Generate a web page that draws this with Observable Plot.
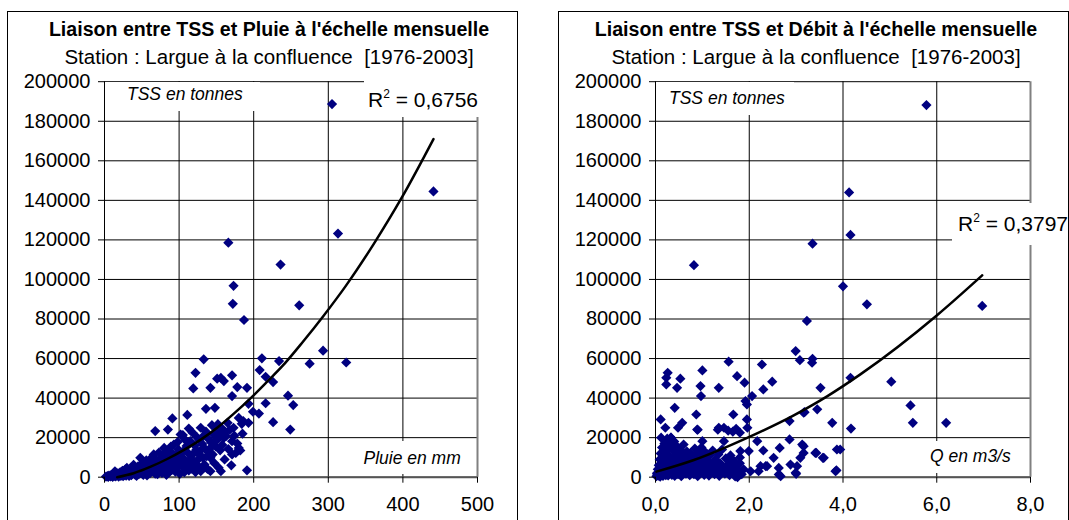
<!DOCTYPE html>
<html><head><meta charset="utf-8">
<script src="https://cdn.jsdelivr.net/npm/d3@7"></script>
<script src="https://cdn.jsdelivr.net/npm/@observablehq/plot@0.6"></script>
<style>
html,body{margin:0;padding:0;background:#fff;}
body{position:relative;width:1069px;height:520px;overflow:hidden;font-family:"Liberation Sans",Arial,Helvetica,sans-serif;color:#000;}
.panel{position:absolute;top:11px;width:511px;height:540px;border:1px solid #000;box-sizing:border-box;}
.title{position:absolute;font-weight:bold;font-size:19.6px;line-height:1;white-space:pre;transform:translateX(-50%);}
.sub{position:absolute;font-size:20.5px;line-height:1;white-space:pre;transform:translateX(-50%);}
.chart{position:absolute;top:60px;}
.box{position:absolute;background:#fff;}
.txt{position:absolute;line-height:1;white-space:nowrap;}
.it{font-style:italic;font-size:17.5px;}
.r2{font-size:21px;}
.r2 sup{font-size:12px;vertical-align:0;position:relative;top:-9px;}
</style></head><body>
<script>
// ---------- DATA ----------
const titles = ["Liaison entre TSS et Pluie à l'échelle mensuelle", "Liaison entre TSS et Débit à l'échelle mensuelle"];
const subtitle = "Station : Largue à la confluence  [1976-2003]";
const yLabel = "TSS en tonnes";
const xLabels = ["Pluie en mm", "Q en m3/s"];
const r2Labels = ["0,6756", "0,3797"];

const yTicks = [0,20000,40000,60000,80000,100000,120000,140000,160000,180000,200000];
const rainTicks = [0,100,200,300,400,500];
const flowTicks = [0,2,4,6,8];

// Pluie (mm) vs TSS (t) — upper / scattered points
const rainSpread = [
[305,188700],[441,144500],[313,123200],[166,118600],[236,107500],[173,96800],[172,87700],[261,86900],[187,79500],
[293,64000],[324,58000],[275,57400],[133,59600],[211,60100],[234,58700],[208,54200],[122,52800],[216,50800],[226,48100],
[171,51500],[151,49800],[160,48600],[156,50200],[142,45200],[119,44900],[178,45600],[191,45200],[171,41000],[246,41200],
[253,36500],[216,37400],[193,37100],[136,34600],[148,35100],[111,31500],[199,33100],[207,32200],[91,29700],[226,27800],
[249,24100],[68,23300],[85,24100],[113,24600],[129,25000],[144,26300],[165,27500],[173,25000],[186,28400],[193,27500],
[191,3500],[176,12300],[180,14800],[171,18200],[160,19900],[151,23300],[142,14800],[156,3000],[142,3000],[129,3000],
[102,21600],[115,18200],[128,13200],[145,11500],[93,16500],[80,14800],[105,21300],[152,26800],[155,21500],[158,24500],
[150,19000],[162,22800],[180,30000],[184,27000],[182,13500],[171,11500]
];
// Pluie (mm) vs TSS (t) — dense cluster
const rainDense = [
[2,300],[4,500],[5,200],[6,800],[8,400],[9,1000],[10,600],[11,200],[12,1200],[13,700],[14,3000],[15,400],[16,1500],
[17,900],[18,2000],[19,300],[20,1100],[21,2500],[22,700],[23,1600],[24,3200],[25,500],[26,1900],[27,1200],[28,4000],
[29,800],[30,4700],[31,2200],[32,1400],[33,600],[34,2800],[35,3500],[36,1000],[37,1800],[38,5200],[39,6300],[40,2400],
[41,1300],[42,3900],[43,700],[44,2900],[45,5500],[46,1600],[47,4400],[48,9800],[49,2100],[50,3300],[51,7200],[52,1200],
[53,6500],[54,4100],[55,2600],[56,8500],[57,900],[58,5000],[59,3600],[60,7800],[61,2000],[62,8100],[63,4800],[64,10200],
[65,3100],[66,11500],[67,6000],[68,1800],[69,9000],[70,4200],[71,1500],[72,7000],[73,12500],[74,3000],[75,5400],[76,9600],
[77,2200],[78,11000],[79,6800],[80,6500],[81,4000],[82,8800],[83,1200],[84,13000],[85,5800],[86,2300],[87,10300],[88,7400],
[89,15500],[90,3600],[91,12000],[92,6200],[93,8100],[94,9200],[95,2800],[96,11000],[97,4600],[98,17800],[99,14000],
[100,7600],[101,1700],[103,10500],[104,9800],[105,5100],[106,13300],[107,2500],[108,19000],[109,8200],[110,15800],
[111,6600],[112,12200],[113,3400],[114,17000],[116,9400],[117,4300],[118,22500],[119,11800],[120,7000],[121,16000],
[122,2600],[123,13800],[124,20200],[125,8800],[126,5500],[127,18900],[128,11200],[130,3900],[131,16800],[132,9700],
[133,21000],[134,6400],[135,14300],[136,23000],[137,10600],[138,4200],[139,19500],[140,12600],[142,9800],[143,17500],
[146,21800],[147,7200],[149,15600],[150,24500],[152,19200],[153,4800],[155,13600],[157,22000],[158,16300],[161,9000],
[163,20800],[166,14200],[168,24000],[170,6000],[174,21000],[178,17000],[185,22000]
];
// Polynomial trend line
const rainTrend = [[17,0],[39,2000],[62,5300],[84,9200],[106,13700],[129,19000],[151,25000],[173,32000],[196,40000],
[218,48300],[238,56000],[266,68500],[294,81800],[323,96500],[361,118000],[399,141700],[441,171000]];

// Débit Q (m3/s) vs TSS (t) — scattered points
const flowSpread = [
[5.78,188200],[4.13,144000],[4.16,122500],[3.35,118100],[0.82,107200],[4.0,96500],[4.51,87400],[6.97,86600],[3.23,79000],
[2.99,63800],[3.08,59200],[3.35,59900],[3.34,57900],[1.56,58400],[2.27,57000],[0.26,52800],[0.23,50300],[0.23,46900],
[0.53,49800],[0.46,45200],[1.0,54000],[0.96,46100],[0.97,41000],[1.35,45200],[1.74,51100],[1.9,47800],[2.06,41000],
[1.95,36800],[2.3,44400],[2.49,48300],[3.52,45200],[3.45,34300],[3.18,32900],[3.77,27500],[4.16,50300],[4.17,24600],
[3.94,14000],[3.86,3500],[2.86,19100],[2.88,6400],[2.99,2200],[3.16,15700],[3.16,12300],[3.41,12300],[3.59,9800],
[2.86,28400],[2.65,14800],[2.52,9800],[2.63,1400],[2.3,13500],[2.24,5600],[2.38,5600],[1.99,13200],[2.03,3000],[2.2,3000],
[2.17,18200],[1.95,29200],[1.96,25000],[1.92,38500],[1.66,31700],[1.81,13200],[1.46,25000],[1.55,23500],[1.65,23000],
[1.8,22500],[1.35,25000],[1.46,18200],[0.11,29200],[0.21,25000],[0.41,35100],[0.48,25000],[0.57,27500],[0.87,31700],
[0.89,24100],[0.9,24000],[1.0,18200],[1.1,11500],[0.12,20000],[0.33,20000],[2.35,5600],[2.63,4700],[2.67,500],[3.13,16500],
[3.09,9800],[3.02,5600],[3.0,1700],[3.43,12300],[3.57,9800],[3.84,3000],[3.87,14000],[3.16,32600],[5.03,48300],[5.44,36300],
[5.49,27500],[6.2,27500],[1.75,0],[1.64,8100],[1.8,10000],[1.33,24000],[1.72,24500]
];
// Débit Q (m3/s) vs TSS (t) — dense cluster
const flowDense = [
[0.02,500],[0.03,2000],[0.04,1200],[0.05,4000],[0.06,800],[0.07,6000],[0.08,2500],[0.09,9000],[0.1,300],[0.1,3500],
[0.11,12000],[0.12,1500],[0.13,7000],[0.14,15000],[0.15,4500],[0.16,600],[0.17,10500],[0.18,2200],[0.19,17000],[0.2,5500],
[0.21,8000],[0.22,1000],[0.23,13000],[0.24,3000],[0.25,19500],[0.26,6500],[0.27,900],[0.28,11000],[0.29,4000],[0.3,16000],
[0.31,2000],[0.32,8500],[0.33,20000],[0.34,5000],[0.35,1200],[0.36,14000],[0.37,3500],[0.38,10000],[0.39,7000],[0.4,18000],
[0.41,700],[0.42,12500],[0.43,4200],[0.44,2600],[0.45,9000],[0.46,15500],[0.47,6000],[0.48,1500],[0.5,11500],[0.51,3200],
[0.52,7800],[0.54,13500],[0.55,500],[0.56,5200],[0.57,9600],[0.58,2400],[0.6,16500],[0.61,4000],[0.62,11000],[0.64,7000],
[0.65,1800],[0.67,13000],[0.68,3600],[0.7,9000],[0.71,5500],[0.73,1000],[0.74,12000],[0.76,2800],[0.77,7500],[0.79,4600],
[0.8,10500],[0.82,1500],[0.84,14500],[0.85,6200],[0.87,3000],[0.88,8800],[0.9,500],[0.92,12000],[0.93,5000],[0.95,2200],
[0.97,7000],[0.98,15000],[1.0,3800],[1.02,10000],[1.04,1200],[1.05,6000],[1.07,12500],[1.09,3000],[1.1,8500],[1.12,4800],
[1.14,800],[1.16,11000],[1.18,2500],[1.2,6800],[1.22,13500],[1.24,4000],[1.26,1500],[1.28,9000],[1.3,5500],[1.32,2800],
[1.34,11500],[1.36,700],[1.38,7000],[1.4,3800],[1.42,14000],[1.45,5000],[1.48,1800],[1.5,9500],[1.52,3000],[1.55,6500],
[1.58,1000],[1.6,11000],[1.62,4500],[1.65,2200],[1.68,8000],[1.7,400],[1.73,5500],[1.76,3000],[1.8,7000],[1.84,1500],[1.88,4000]
];
const flowTrend = [[0.02,2800],[0.82,8700],[1.955,19900],[2.95,31300],[3.66,40900],[4.37,52000],[6.0,81800],[6.97,102100]];

// ---------- DRAW ----------
const FONT = '"Liberation Sans",Arial,Helvetica,sans-serif';

function el(cls, css, html) {
  const d = document.createElement("div");
  d.className = cls;
  Object.assign(d.style, css);
  if (html !== undefined) d.innerHTML = html;
  document.body.appendChild(d);
  return d;
}

function chart({points, trend, xTicks, xFmt, marginRight}) {
  const xMax = xTicks[xTicks.length - 1];
  return Plot.plot({
    width: 510, height: 460,
    marginLeft: 97, marginRight, marginTop: 21.2, marginBottom: 43.3,
    style: {fontFamily: FONT, fontSize: "20px", color: "#000", background: "transparent", overflow: "visible"},
    x: {domain: [0, xMax]},
    y: {domain: [0, 200000]},
    marks: [
      Plot.gridY(yTicks, {stroke: "#000", strokeOpacity: 1, strokeWidth: 1}),
      Plot.gridX(xTicks.slice(1, -1), {stroke: "#000", strokeOpacity: 1, strokeWidth: 1}),
      Plot.ruleX([xMax], {stroke: "#808080", strokeWidth: 2}),
      Plot.ruleX([0], {stroke: "#000", strokeWidth: 1}),
      Plot.ruleY([0], {stroke: "#555", strokeWidth: 2}),
      Plot.dot(points, {x: d => d[0], y: d => d[1], symbol: "diamond2", r: 4.6, fill: "#000080", stroke: "none"}),
      Plot.line(trend, {x: d => d[0], y: d => d[1], stroke: "#000", strokeWidth: 2.5, curve: "monotone-x"}),
      Plot.axisX({ticks: xTicks, tickFormat: xFmt, tickSize: 6, tickPadding: 14, label: null, fontSize: 20}),
      Plot.axisY({ticks: yTicks, tickFormat: d => String(d), tickSize: 6, tickPadding: 8, label: null, fontSize: 20})
    ]
  });
}

const panels = [
  {left: 7, points: rainSpread.concat(rainDense), trend: rainTrend, xTicks: rainTicks, xFmt: d => String(d), marginRight: 40,
   titleX: 269},
  {left: 558, points: flowSpread.concat(flowDense), trend: flowTrend, xTicks: flowTicks, xFmt: d => d.toFixed(1).replace(".", ","), marginRight: 38,
   titleX: 816}
];

panels.forEach((p, i) => {
  el("panel", {left: p.left + "px"});
  const c = el("chart", {left: p.left + "px"});
  c.appendChild(chart(p));
  el("title", {left: p.titleX + "px", top: "19.5px"}, titles[i]);
  el("sub", {left: p.titleX + "px", top: "46.5px"}, subtitle);
});

// Annotation labels (white label boxes as in the original)
// left panel
el("box", {left: "105px", top: "82px", width: "155px", height: "29px"});
el("txt it", {left: "127px", top: "86.2px"}, yLabel);
el("box", {left: "364px", top: "70px", width: "130px", height: "47px"});
el("txt r2", {left: "368px", top: "88.9px"}, "R<sup>2</sup> = " + r2Labels[0]);
el("box", {left: "355px", top: "441px", width: "115px", height: "33px"});
el("txt it", {left: "363.5px", top: "449.6px"}, xLabels[0]);
// right panel
el("box", {left: "656px", top: "82px", width: "138px", height: "33px"});
el("txt it", {left: "669px", top: "90.2px"}, yLabel);
el("box", {left: "952px", top: "203px", width: "115px", height: "42px"});
el("txt r2", {left: "958px", top: "213.2px"}, "R<sup>2</sup> = " + r2Labels[1]);
el("box", {left: "924px", top: "441px", width: "94px", height: "32px"});
el("txt it", {left: "930px", top: "447.9px"}, xLabels[1]);
</script>
</body></html>
